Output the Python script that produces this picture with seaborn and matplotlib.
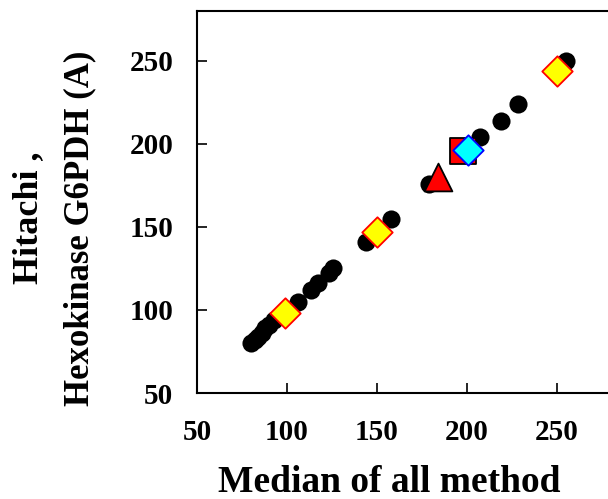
import matplotlib
matplotlib.use("Agg")
import matplotlib.pyplot as plt
import seaborn as sns

# Data
circle_x = [80, 82, 84, 86, 88, 90, 93, 106, 113.5, 117, 123.5, 125.7, 144, 158, 179, 207, 219, 228.5, 255]
circle_y = [80, 82, 84, 86, 89, 91, 94, 105, 112, 116, 122.5, 125, 141, 155, 176, 204, 214, 224, 250]
ydiam_x = [99, 150, 250]
ydiam_y = [98, 147, 244]
tri_x = [184]
tri_y = [180]
sq_x = [198]
sq_y = [196]
cdiam_x = [200.7]
cdiam_y = [196.6]

xticks = [50, 100, 150, 200, 250]
yticks = [50, 100, 150, 200, 250]

sns.set_theme(style="white")
plt.rcParams['font.family'] = ['Liberation Serif', 'DejaVu Serif']
plt.rcParams['font.weight'] = 'bold'
plt.rcParams['text.color'] = 'black'
plt.rcParams['xtick.color'] = 'black'
plt.rcParams['ytick.color'] = 'black'

W, H = 608, 499
fig = plt.figure(figsize=(W/100, H/100), dpi=100)
ax = fig.add_axes([197/W, 1-393/H, (647-197)/W, (393-11)/H])

sns.scatterplot(x=circle_x, y=circle_y, ax=ax, marker='o', s=170, color='black',
                edgecolor='black', linewidth=0, zorder=2)
sns.scatterplot(x=ydiam_x, y=ydiam_y, ax=ax, marker='D', s=240, color='#ffff00',
                edgecolor='red', linewidth=1.3, zorder=3)
sns.scatterplot(x=tri_x, y=tri_y, ax=ax, marker='^', s=400, color='red',
                edgecolor='black', linewidth=1.3, zorder=3)
sns.scatterplot(x=sq_x, y=sq_y, ax=ax, marker='s', s=376, color='red',
                edgecolor='black', linewidth=1.3, zorder=4)
sns.scatterplot(x=cdiam_x, y=cdiam_y, ax=ax, marker='D', s=240, color='#00ffff',
                edgecolor='blue', linewidth=1.3, zorder=5)

ax.set_xlim(50, 300)
ax.set_ylim(50, 280)
ax.set_xticks(xticks)
ax.set_yticks(yticks)
ax.set_xticklabels([str(t) for t in xticks], fontsize=21, fontweight='bold', color='black')
ax.set_yticklabels([str(t) for t in yticks], fontsize=21, fontweight='bold', color='black')
ax.tick_params(axis='both', direction='in', length=7, width=1.2, colors='black')
ax.tick_params(axis='x', pad=19, bottom=True)
ax.tick_params(axis='y', pad=17, left=True)
for sp in ax.spines.values():
    sp.set_color('black')
    sp.set_linewidth(1.5)
ax.set_xlabel('')
ax.set_ylabel('')

fig.text(389/W, 1-482/H, 'Median of all method', ha='center', va='center',
         fontsize=27, fontweight='bold', color='black')
fig.text(29/W, 1-218/H, 'Hitachi ,', ha='center', va='center', rotation=90,
         fontsize=26, fontweight='bold', color='black')
fig.text(80/W, 1-228/H, 'Hexokinase G6PDH (A)', ha='center', va='center', rotation=90,
         fontsize=25, fontweight='bold', color='black')

fig.savefig('out.png', dpi=100)
